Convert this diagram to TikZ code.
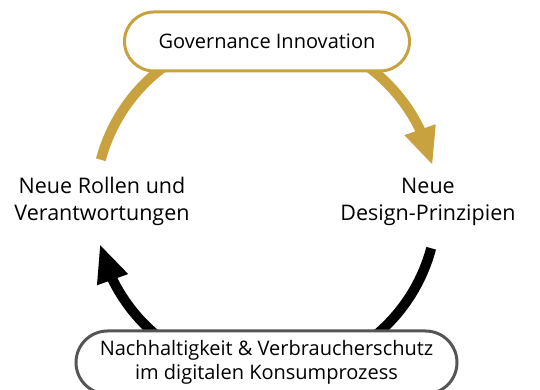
\documentclass[tikz,border=0pt]{standalone}
\usepackage{fontspec}
\setmainfont{Open Sans}
\usetikzlibrary{arrows.meta,bending,shapes.misc}
\definecolor{gold}{RGB}{201,162,64}
\definecolor{boxgray}{RGB}{85,85,85}
\tikzset{
  pill/.style={rounded rectangle, line width=3pt, fill=white, align=center, inner sep=0pt},
  lbl/.style={align=center, inner sep=0pt, font=\fontsize{21.5}{27}\selectfont},
  ring/.style={line width=10pt, -{Triangle[length=38pt,width=30pt,flex]}}
}
\begin{document}
\begin{tikzpicture}[x=1pt,y=1pt]
\useasboundingbox (0,0) rectangle (540,390);
\coordinate (c) at (266,186);
\draw[ring, gold] ([shift={(165:171)}]c) arc[start angle=165,end angle=13,radius=171];
\draw[ring, black] ([shift={(-15:171)}]c) arc[start angle=-15,end angle=-166.5,radius=171];
\node[pill, draw=gold, minimum width=285, minimum height=59, font=\fontsize{20}{24}\selectfont] (gov) at (267,348.5) {Governance Innovation};
\node[pill, draw=boxgray, minimum width=381, minimum height=63, font=\fontsize{20}{24}\selectfont] (nach) at (266.5,27.5) {Nachhaltigkeit \& Verbraucherschutz\\im digitalen Konsumprozess};
\node[lbl] (rollen) at (102,188.5) {Neue Rollen und\\Verantwortungen};
\node[lbl] (design) at (428,188.5) {Neue\\Design-Prinzipien};
\end{tikzpicture}
\end{document}
